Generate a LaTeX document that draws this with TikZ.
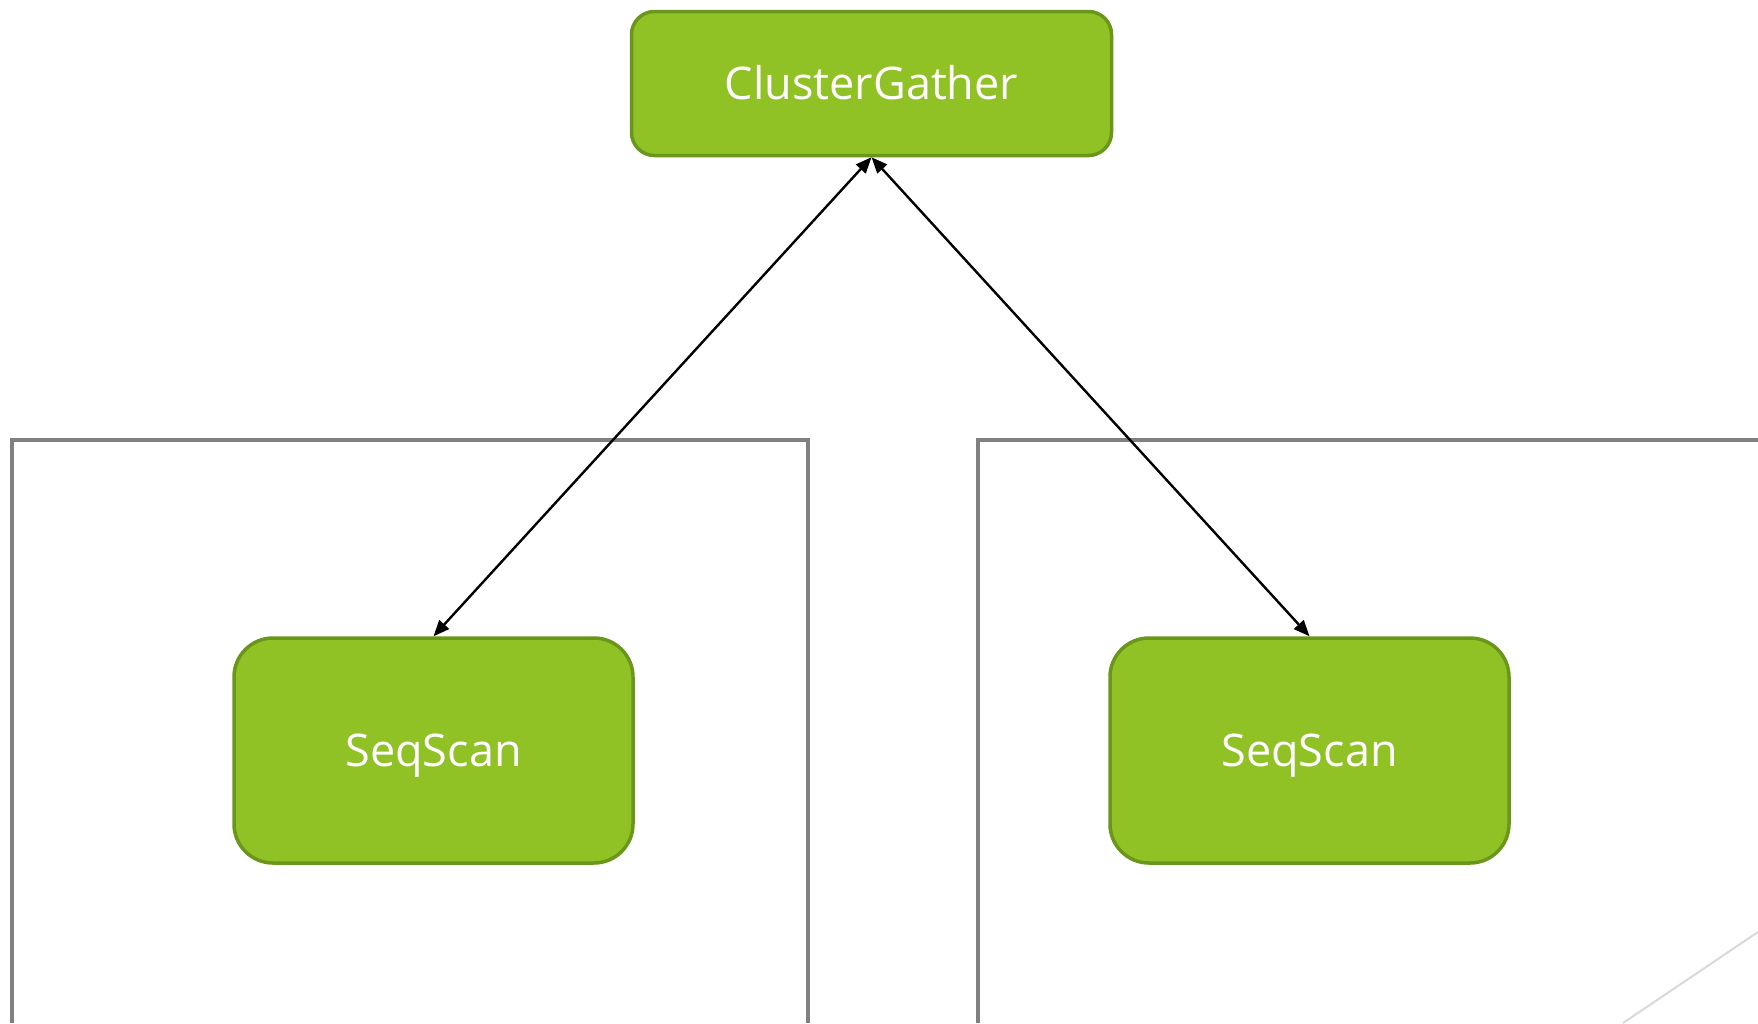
\documentclass[tikz,border=0pt]{standalone}
\usepackage{fontspec}
\setmainfont{Open Sans}
\usetikzlibrary{arrows.meta}
\definecolor{boxfill}{HTML}{90C226}
\definecolor{boxline}{HTML}{6B961C}
\definecolor{framegray}{HTML}{808080}
\definecolor{faintgray}{HTML}{D9D9D9}
\tikzset{
  opbox/.style={draw=boxline, fill=boxfill, line width=3.5pt, text=white,
    font=\fontsize{45}{54}\selectfont, inner sep=0pt,
    text height=32pt, text depth=0pt},
  frameline/.style={draw=framegray, line width=3.5pt},
  link/.style={draw=black, line width=2.4pt,
    {Triangle[length=16pt,width=13pt]}-{Triangle[length=16pt,width=13pt]}},
}
\begin{document}
\begin{tikzpicture}[x=1pt,y=-1pt]
\useasboundingbox[fill=white] (0,0) rectangle (1758,1023);
% frames
\draw[frameline] (12,1023) -- (12,440) -- (808,440) -- (808,1023);
\draw[frameline] (978,1023) -- (978,440) -- (1758,440);
\draw[draw=faintgray, line width=2pt] (1758,932) -- (1623,1023);
% nodes
\node[opbox, rounded corners=23pt, minimum width=480pt, minimum height=144pt] (cg) at (871.5,83.5) {ClusterGather};
\node[opbox, rounded corners=39pt, minimum width=399pt, minimum height=225pt] (s1) at (433.5,750.5) {SeqScan};
\node[opbox, rounded corners=39pt, minimum width=399pt, minimum height=225pt] (s2) at (1309.5,750.5) {SeqScan};
% links
\draw[link] (s1.north) -- (cg.south);
\draw[link] (s2.north) -- (cg.south);
\end{tikzpicture}
\end{document}
